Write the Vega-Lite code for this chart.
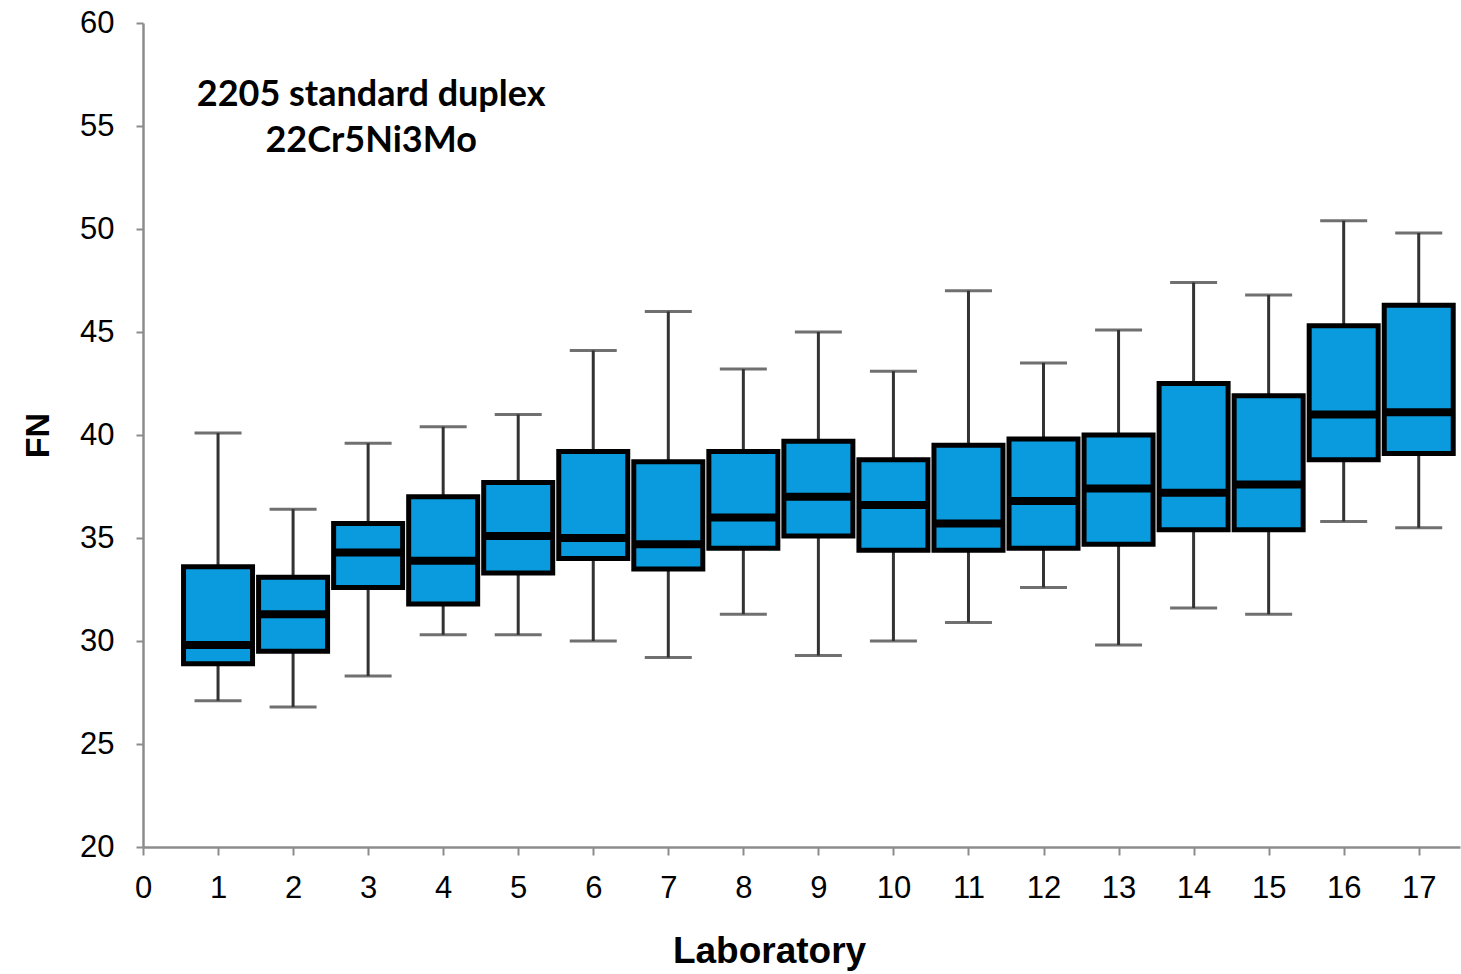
{
  "$schema": "https://vega.github.io/schema/vega-lite/v6.json",
  "width": 1317,
  "height": 824,
  "autosize": "none",
  "padding": {"left": 143, "top": 23, "right": 1, "bottom": 127},
  "background": "white",
  "config": {"view": {"stroke": null}},
  "datasets": {
    "boxes": [
      {"lab": 1, "lo": 27.1, "q1": 28.9, "med": 29.8, "q3": 33.6, "hi": 40.1},
      {"lab": 2, "lo": 26.8, "q1": 29.5, "med": 31.3, "q3": 33.1, "hi": 36.4},
      {"lab": 3, "lo": 28.3, "q1": 32.6, "med": 34.3, "q3": 35.7, "hi": 39.6},
      {"lab": 4, "lo": 30.3, "q1": 31.8, "med": 33.9, "q3": 37.0, "hi": 40.4},
      {"lab": 5, "lo": 30.3, "q1": 33.3, "med": 35.1, "q3": 37.7, "hi": 41.0},
      {"lab": 6, "lo": 30.0, "q1": 34.0, "med": 35.0, "q3": 39.2, "hi": 44.1},
      {"lab": 7, "lo": 29.2, "q1": 33.5, "med": 34.7, "q3": 38.7, "hi": 46.0},
      {"lab": 8, "lo": 31.3, "q1": 34.5, "med": 36.0, "q3": 39.2, "hi": 43.2},
      {"lab": 9, "lo": 29.3, "q1": 35.1, "med": 37.0, "q3": 39.7, "hi": 45.0},
      {"lab": 10, "lo": 30.0, "q1": 34.4, "med": 36.6, "q3": 38.8, "hi": 43.1},
      {"lab": 11, "lo": 30.9, "q1": 34.4, "med": 35.7, "q3": 39.5, "hi": 47.0},
      {"lab": 12, "lo": 32.6, "q1": 34.5, "med": 36.8, "q3": 39.8, "hi": 43.5},
      {"lab": 13, "lo": 29.8, "q1": 34.7, "med": 37.4, "q3": 40.0, "hi": 45.1},
      {"lab": 14, "lo": 31.6, "q1": 35.4, "med": 37.2, "q3": 42.5, "hi": 47.4},
      {"lab": 15, "lo": 31.3, "q1": 35.4, "med": 37.6, "q3": 41.9, "hi": 46.8},
      {"lab": 16, "lo": 35.8, "q1": 38.8, "med": 41.0, "q3": 45.3, "hi": 50.4},
      {"lab": 17, "lo": 35.5, "q1": 39.1, "med": 41.1, "q3": 46.3, "hi": 49.8}
    ],
    "notes": [
      {"x": 3.04, "y": 56.5, "label": "2205 standard duplex"},
      {"x": 3.04, "y": 54.25, "label": "22Cr5Ni3Mo"}
    ]
  },
  "layer": [
    {
      "data": {"name": "boxes"},
      "mark": {"type": "rule", "color": "#333333", "strokeWidth": 3},
      "encoding": {
        "x": {
          "field": "lab", "type": "quantitative",
          "scale": {"domain": [0, 17.55], "nice": false, "zero": false, "padding": 0},
          "axis": {
            "values": [0,1,2,3,4,5,6,7,8,9,10,11,12,13,14,15,16,17],
            "format": "d",
            "title": "Laboratory",
            "titleFont": "Liberation Sans", "titleFontSize": 37, "titleFontWeight": "bold",
            "titleColor": "#000000", "titlePadding": 30, "titleX": 626,
            "labelFont": "Liberation Sans", "labelFontSize": 31, "labelColor": "#000000",
            "labelPadding": 18, "labelFlush": false,
            "domainColor": "#8c8c8c", "domainWidth": 2.5,
            "tickColor": "#8c8c8c", "tickWidth": 2, "tickSize": 8,
            "grid": false
          }
        },
        "y": {
          "field": "lo", "type": "quantitative",
          "scale": {"domain": [20, 60], "nice": false, "zero": false},
          "axis": {
            "values": [20,25,30,35,40,45,50,55,60],
            "title": "FN",
            "titleFont": "Liberation Sans", "titleFontSize": 34, "titleFontWeight": "bold",
            "titleColor": "#000000", "titlePadding": 24,
            "labelFont": "Liberation Sans", "labelFontSize": 31, "labelColor": "#000000",
            "labelPadding": 22, "labelFlush": false,
            "domainColor": "#8c8c8c", "domainWidth": 2.5,
            "tickColor": "#8c8c8c", "tickWidth": 2, "tickSize": 7,
            "grid": false
          }
        },
        "y2": {"field": "hi"}
      }
    },
    {
      "data": {"name": "boxes"},
      "mark": {"type": "tick", "color": "#333333", "size": 47, "thickness": 3, "orient": "horizontal"},
      "encoding": {
        "x": {"field": "lab", "type": "quantitative"},
        "y": {"field": "hi", "type": "quantitative"}
      }
    },
    {
      "data": {"name": "boxes"},
      "mark": {"type": "tick", "color": "#333333", "size": 47, "thickness": 3, "orient": "horizontal"},
      "encoding": {
        "x": {"field": "lab", "type": "quantitative"},
        "y": {"field": "lo", "type": "quantitative"}
      }
    },
    {
      "data": {"name": "boxes"},
      "mark": {"type": "bar", "width": 69, "fill": "#0A9BDF", "stroke": "#000000", "strokeWidth": 5, "opacity": 1},
      "encoding": {
        "x": {"field": "lab", "type": "quantitative"},
        "y": {"field": "q1", "type": "quantitative"},
        "y2": {"field": "q3"}
      }
    },
    {
      "data": {"name": "boxes"},
      "mark": {"type": "tick", "color": "#000000", "size": 69, "thickness": 8, "orient": "horizontal", "opacity": 1},
      "encoding": {
        "x": {"field": "lab", "type": "quantitative"},
        "y": {"field": "med", "type": "quantitative"}
      }
    },
    {
      "data": {"name": "notes"},
      "mark": {"type": "text", "font": "Lato", "fontSize": 36, "fontWeight": "bold", "color": "#000000", "align": "center", "baseline": "middle"},
      "encoding": {
        "x": {"field": "x", "type": "quantitative"},
        "y": {"field": "y", "type": "quantitative"},
        "text": {"field": "label"}
      }
    }
  ]
}
